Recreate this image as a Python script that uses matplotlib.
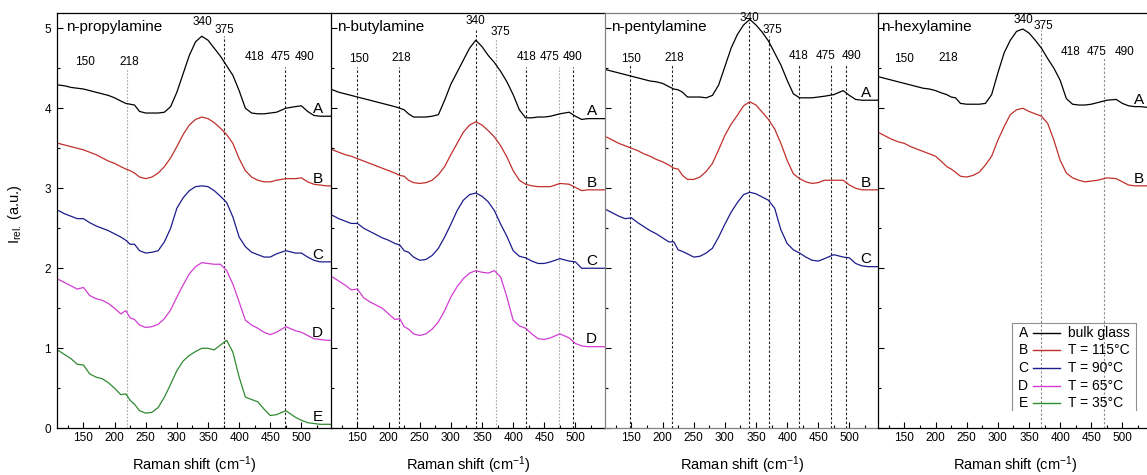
import matplotlib.pyplot as plt
from matplotlib.ticker import MultipleLocator

plt.rcParams["font.family"] = ["Liberation Sans", "DejaVu Sans"]
plt.rcParams["mathtext.fontset"] = "custom"
plt.rcParams["mathtext.rm"] = "Liberation Sans"
plt.rcParams["mathtext.it"] = "Liberation Sans:italic"

# Raman shift grid (cm-1) shared by all spectra
shift = [110, 120, 130, 140, 150, 160, 170, 180, 190, 200, 210,
         218, 225, 232,
         240, 250, 260, 270, 280, 290, 300, 310, 320, 330, 340, 350, 360, 370,
         380, 390, 400, 410, 420, 430, 440, 450, 460,
         475, 490,
         500, 510, 520, 530, 540, 550]

# n-propylamine, curves A..E (offset intensities)
propyl_A = [4.29, 4.28, 4.26, 4.25, 4.24, 4.22, 4.20, 4.18, 4.16, 4.13, 4.09,
            4.06, 4.05, 4.04,
            3.96, 3.94, 3.94, 3.94, 3.95, 4.02, 4.20, 4.43, 4.66, 4.83, 4.90, 4.85, 4.75, 4.65,
            4.53, 4.41, 4.22, 4.00, 3.94, 3.93, 3.93, 3.94, 3.95,
            4.00, 4.02,
            4.03, 3.96, 3.91, 3.90, 3.90, 3.90]
propyl_B = [3.56, 3.54, 3.52, 3.50, 3.48, 3.45, 3.42, 3.38, 3.34, 3.31, 3.27,
            3.24, 3.22, 3.19,
            3.14, 3.12, 3.14, 3.19, 3.27, 3.38, 3.52, 3.67, 3.79, 3.86, 3.89, 3.87, 3.82, 3.75,
            3.67, 3.56, 3.37, 3.22, 3.14, 3.10, 3.08, 3.08, 3.10,
            3.12, 3.12,
            3.13, 3.08, 3.05, 3.04, 3.03, 3.03]
propyl_C = [2.72, 2.68, 2.65, 2.62, 2.62, 2.57, 2.53, 2.50, 2.47, 2.43, 2.39,
            2.35, 2.30, 2.30,
            2.22, 2.19, 2.20, 2.22, 2.33, 2.50, 2.75, 2.88, 2.97, 3.02, 3.03, 3.02, 2.97, 2.90,
            2.82, 2.64, 2.39, 2.27, 2.20, 2.17, 2.14, 2.14, 2.18,
            2.22, 2.19,
            2.19, 2.14, 2.10, 2.08, 2.08, 2.08]
propyl_D = [1.86, 1.82, 1.78, 1.74, 1.76, 1.66, 1.62, 1.60, 1.56, 1.50, 1.43,
            1.47, 1.38, 1.36,
            1.29, 1.26, 1.27, 1.30, 1.37, 1.48, 1.64, 1.79, 1.93, 2.02, 2.07, 2.06, 2.05, 2.05,
            1.97, 1.80, 1.58, 1.35, 1.29, 1.25, 1.20, 1.17, 1.20,
            1.27, 1.22,
            1.20, 1.16, 1.12, 1.11, 1.10, 1.10]
propyl_E = [0.97, 0.92, 0.87, 0.80, 0.79, 0.68, 0.64, 0.62, 0.57, 0.50, 0.42,
            0.43, 0.35, 0.30,
            0.22, 0.19, 0.20, 0.26, 0.39, 0.55, 0.72, 0.84, 0.91, 0.96, 1.00, 1.00, 0.98, 1.04,
            1.10, 0.95, 0.64, 0.39, 0.36, 0.33, 0.24, 0.16, 0.17,
            0.22, 0.14,
            0.10, 0.07, 0.06, 0.05, 0.05, 0.05]

# n-butylamine, curves A..D
butyl_A = [4.23, 4.20, 4.18, 4.16, 4.14, 4.12, 4.10, 4.08, 4.06, 4.04, 4.02,
           4.00, 3.98, 3.93,
           3.89, 3.89, 3.89, 3.90, 3.92, 4.10, 4.30, 4.45, 4.60, 4.75, 4.85, 4.77, 4.66, 4.57,
           4.46, 4.33, 4.17, 3.98, 3.88, 3.88, 3.89, 3.89, 3.90,
           3.93, 3.95,
           3.90, 3.86, 3.87, 3.87, 3.87, 3.87]
butyl_B = [3.48, 3.45, 3.42, 3.40, 3.37, 3.34, 3.31, 3.28, 3.25, 3.22, 3.19,
           3.16, 3.15, 3.10,
           3.07, 3.06, 3.07, 3.10, 3.17, 3.27, 3.42, 3.56, 3.70, 3.79, 3.83, 3.79, 3.72, 3.64,
           3.53, 3.39, 3.22, 3.10, 3.05, 3.03, 3.02, 3.02, 3.02,
           3.06, 3.05,
           3.01, 2.97, 2.98, 2.98, 2.98, 2.98]
butyl_C = [2.66, 2.62, 2.59, 2.56, 2.56, 2.50, 2.46, 2.42, 2.38, 2.35, 2.31,
           2.29, 2.22, 2.20,
           2.14, 2.10, 2.11, 2.16, 2.25, 2.39, 2.55, 2.72, 2.85, 2.92, 2.94, 2.90, 2.83, 2.72,
           2.55, 2.40, 2.22, 2.15, 2.13, 2.09, 2.06, 2.06, 2.08,
           2.12, 2.09,
           2.08, 2.00, 2.00, 2.00, 2.00, 2.00]
butyl_D = [1.89, 1.84, 1.79, 1.73, 1.74, 1.63, 1.58, 1.54, 1.50, 1.43, 1.36,
           1.37, 1.27, 1.24,
           1.18, 1.16, 1.18, 1.24, 1.33, 1.47, 1.64, 1.77, 1.87, 1.94, 1.97, 1.95, 1.94, 1.97,
           1.89, 1.64, 1.35, 1.28, 1.25, 1.18, 1.12, 1.11, 1.13,
           1.18, 1.13,
           1.06, 1.03, 1.02, 1.02, 1.02, 1.02]

# n-pentylamine, curves A..C
pentyl_A = [4.48, 4.46, 4.44, 4.42, 4.40, 4.38, 4.36, 4.34, 4.33, 4.31, 4.27,
            4.24, 4.23, 4.20,
            4.14, 4.14, 4.14, 4.13, 4.16, 4.29, 4.52, 4.75, 4.92, 5.04, 5.11, 5.04, 4.95, 4.84,
            4.69, 4.54, 4.35, 4.18, 4.13, 4.13, 4.13, 4.14, 4.15,
            4.17, 4.22,
            4.16, 4.11, 4.10, 4.10, 4.10, 4.10]
pentyl_B = [3.64, 3.60, 3.56, 3.53, 3.50, 3.47, 3.43, 3.40, 3.36, 3.33, 3.29,
            3.25, 3.24, 3.16,
            3.11, 3.11, 3.14, 3.21, 3.31, 3.48, 3.66, 3.80, 3.91, 4.03, 4.08, 4.04, 3.95, 3.86,
            3.74, 3.56, 3.35, 3.18, 3.12, 3.08, 3.06, 3.07, 3.10,
            3.10, 3.10,
            3.04, 3.00, 2.98, 2.98, 2.98, 2.98]
pentyl_C = [2.73, 2.69, 2.65, 2.62, 2.63, 2.57, 2.52, 2.47, 2.43, 2.38, 2.33,
            2.33, 2.23, 2.21,
            2.18, 2.14, 2.15, 2.19, 2.25, 2.39, 2.55, 2.70, 2.82, 2.92, 2.95, 2.93, 2.89, 2.85,
            2.75, 2.48, 2.31, 2.23, 2.19, 2.14, 2.10, 2.09, 2.12,
            2.17, 2.14,
            2.13, 2.06, 2.03, 2.02, 2.02, 2.02]

# n-hexylamine, curves A..B
hexyl_A = [4.39, 4.37, 4.35, 4.33, 4.31, 4.29, 4.27, 4.25, 4.24, 4.22, 4.19,
           4.17, 4.14, 4.13,
           4.06, 4.05, 4.05, 4.05, 4.06, 4.17, 4.44, 4.69, 4.85, 4.96, 4.99, 4.94, 4.85, 4.75,
           4.62, 4.50, 4.35, 4.12, 4.05, 4.04, 4.04, 4.05, 4.07,
           4.10, 4.11,
           4.06, 4.03, 4.02, 4.02, 4.01, 4.01]
hexyl_B = [3.69, 3.65, 3.61, 3.58, 3.56, 3.52, 3.49, 3.46, 3.43, 3.40, 3.33,
           3.27, 3.24, 3.20,
           3.15, 3.14, 3.16, 3.20, 3.29, 3.40, 3.60, 3.77, 3.92, 3.98, 4.00, 3.96, 3.93, 3.90,
           3.81, 3.60, 3.35, 3.19, 3.13, 3.10, 3.08, 3.09, 3.10,
           3.13, 3.12,
           3.08, 3.04, 3.03, 3.03, 3.03, 3.03]

amines = ["n-propylamine", "n-butylamine", "n-pentylamine", "n-hexylamine"]
curve_letters = ["A", "B", "C", "D", "E"]
legend_labels = ["bulk glass", "T = 115°C", "T = 90°C", "T = 65°C", "T = 35°C"]
peak_labels = ["150", "218", "340", "375", "418", "475", "490"]

# vertical marker lines (cm-1) per panel
marks_propyl = [220, 375, 474]
marks_butyl = [149, 216, 341, 373, 421, 473, 496]
marks_pentyl = [147, 215, 339, 371, 419, 471, 494]
marks_hexyl = [370, 470]

spectra = [
    [propyl_A, propyl_B, propyl_C, propyl_D, propyl_E],
    [butyl_A, butyl_B, butyl_C, butyl_D],
    [pentyl_A, pentyl_B, pentyl_C],
    [hexyl_A, hexyl_B],
]
marks = [marks_propyl, marks_butyl, marks_pentyl, marks_hexyl]

# ---- styling / layout ----
colors = ["#000000", "#c0302c", "#1c1c8c", "#d23cd2", "#2f8a30"]
dark = dict(color="#222222", ls=(0, (2.2, 1.8)), lw=0.8)
light = dict(color="#a8a8a8", ls=(0, (1.5, 1.5)), lw=0.8)
mid = dict(color="#8a8a8a", ls=(0, (2.0, 1.8)), lw=0.8)
mark_tops = [[4.5, 4.9, 4.52],
             [4.52, 4.52, 5.0, 4.87, 4.52, 4.52, 4.52],
             [4.54, 4.54, 5.08, 4.9, 4.54, 4.54, 4.54],
             [4.98, 4.63]]
mark_styles = [[light, dark, dark],
               [dark, dark, dark, light, dark, light, dark],
               [dark, dark, dark, dark, dark, dark, dark],
               [mid, mid]]
# where the peak numbers sit (data units)
label_x = [[152, 224, 341, 377, 424, 467, 505],
           [152, 221, 340, 380, 422, 459, 496],
           [149, 218, 339, 376, 419, 462, 504],
           [150, 221, 341, 373, 416, 458, 503]]
label_y = [[4.58, 4.58, 5.08, 4.98, 4.64, 4.64, 4.64],
           [4.61, 4.63, 5.09, 4.95, 4.64, 4.64, 4.64],
           [4.62, 4.63, 5.13, 4.98, 4.65, 4.65, 4.65],
           [4.62, 4.63, 5.10, 5.03, 4.70, 4.70, 4.70]]
title_x = [122, 118, 118, 113]

W, H = 1147, 475
lefts = [57.3, 331.3, 605.3, 878.3]
fig = plt.figure(figsize=(W / 100, H / 100), dpi=100)

axes = []
for i in range(4):
    ax = fig.add_axes([lefts[i] / W, 46.7 / H, 274 / W, 415.3 / H])
    axes.append(ax)
    ax.set_xlim(108, 548)
    ax.set_ylim(0, 5.19)

    for j, y in enumerate(spectra[i]):
        ax.plot(shift, y, color=colors[j], lw=0.9)
        ax.text(526, y[-1] + 0.04, curve_letters[j], ha="center", va="baseline",
                fontsize=11)

    for x, top, st in zip(marks[i], mark_tops[i], mark_styles[i]):
        ax.vlines(x, 0, top, zorder=1, **st)

    for t, x, y in zip(peak_labels, label_x[i], label_y[i]):
        ax.text(x, y, t, ha="center", va="center", fontsize=8.5)
    ax.text(title_x[i], 5.02, amines[i], ha="left", va="center", fontsize=11)

    ax.xaxis.set_major_locator(MultipleLocator(50))
    ax.xaxis.set_minor_locator(MultipleLocator(25))
    ax.yaxis.set_major_locator(MultipleLocator(1))
    ax.yaxis.set_minor_locator(MultipleLocator(0.5))
    ax.tick_params(which="both", direction="in", top=False, right=False,
                   width=0.8, labelsize=8.5)
    ax.tick_params(which="major", length=4)
    ax.tick_params(which="minor", length=2.3)
    ax.tick_params(axis="x", pad=2.5)
    ax.tick_params(axis="y", pad=4.5)
    if i > 0:
        ax.tick_params(axis="y", labelleft=False)
    if i < 3:
        ax.spines["right"].set_visible(False)
    for s in ax.spines.values():
        s.set_linewidth(0.9)
    if i == 2:
        for s in ax.spines.values():
            s.set_color("#808080")
    ax.set_xlabel("Raman shift (cm$^{-1}$)", fontsize=10.5, labelpad=7.5)

fig.text(0.013, 0.55, r"I$_{\mathrm{rel.}}$ (a.u.)", rotation=90,
         ha="center", va="center", fontsize=10.5)

# legend drawn Origin-style inside the last panel (axes fraction coords)
ax = axes[3]
rows = [0.230, 0.188, 0.145, 0.103, 0.061]
for j in range(5):
    ax.text(0.529, rows[j], curve_letters[j], transform=ax.transAxes,
            ha="center", va="center", fontsize=10)
    ax.plot([0.566, 0.663], [rows[j], rows[j]], transform=ax.transAxes,
            color=colors[j], lw=1.0)
    ax.text(0.693, rows[j], legend_labels[j], transform=ax.transAxes,
            ha="left", va="center", fontsize=10)
ax.plot([0.487, 0.487, 0.939, 0.939], [0.045, 0.254, 0.254, 0.045],
        transform=ax.transAxes, color="#909090", lw=0.8)

fig.savefig("out.png", dpi=100)
